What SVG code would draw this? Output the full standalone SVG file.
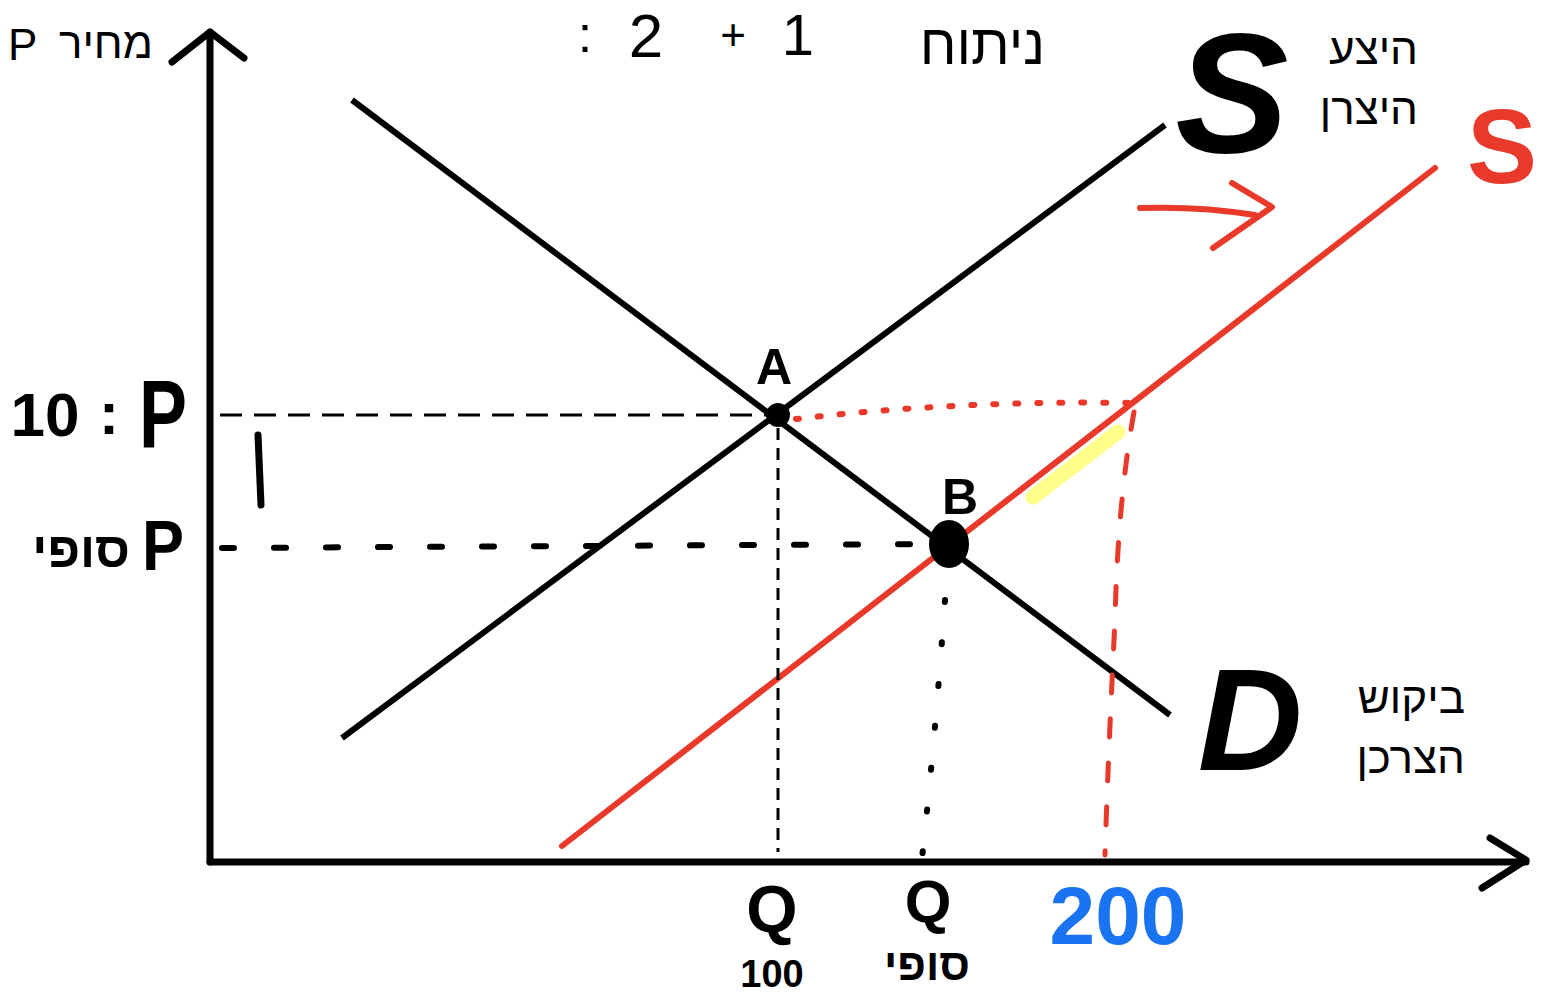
<svg xmlns="http://www.w3.org/2000/svg" width="1547" height="993" viewBox="0 0 1547 993">
<style>
.ax{stroke:#000;stroke-width:7;fill:none;stroke-linecap:round;stroke-linejoin:round}
.ln{stroke:#000;stroke-width:6;fill:none}
.rd{stroke:#e8392a;stroke-width:6;fill:none;stroke-linecap:round}
.hand{font-family:"Liberation Sans","DejaVu Sans",sans-serif;font-weight:bold;fill:#000}
.thin{font-family:"Liberation Sans","DejaVu Sans",sans-serif;fill:#000}
.typed{font-family:"Liberation Sans","DejaVu Sans","Noto Sans",sans-serif;font-size:44px;fill:#000}
</style>
<rect width="1547" height="993" fill="#fff"/>
<g id="axes">
<line class="ax" x1="210" y1="32" x2="210" y2="862"/>
<polyline class="ax" stroke-width="4" points="172,62 210,32 244,58"/>
<line class="ax" x1="210" y1="862" x2="1526" y2="862"/>
<polyline class="ax" stroke-width="4" points="1490,838 1526,860 1482,888"/>
</g>
<g id="connectors">
<line id="demand" class="ln" x1="352" y1="100" x2="1170" y2="715"/>
<line id="supply" class="ln" x1="342" y1="738" x2="1165" y2="125"/>
<line id="supply2" class="rd" x1="562" y1="846" x2="1435" y2="168" stroke-width="6"/>
<line stroke="#ffff8a" stroke-width="15" stroke-linecap="round" x1="1033" y1="497" x2="1118" y2="432"/>
<line stroke="#000" stroke-width="3" stroke-dasharray="22,12" x1="220" y1="415" x2="770" y2="415"/>
<line stroke="#000" stroke-width="3" stroke-dasharray="12,8" x1="778" y1="428" x2="778" y2="852"/>
<path d="M222 548 L935 544" stroke="#000" stroke-width="6" stroke-linecap="round" stroke-dasharray="12,40" fill="none"/>
<path d="M945 600 Q935 740 922 858" stroke="#000" stroke-width="6" stroke-linecap="round" stroke-dasharray="2,40" fill="none"/>
<path d="M796 419 Q960 400 1135 403" stroke="#e8392a" stroke-width="6" stroke-linecap="round" stroke-dasharray="3,19" fill="none"/>
<path d="M1134 412 Q1118 500 1115 620 Q1108 760 1105 855" stroke="#e8392a" stroke-width="5" stroke-linecap="round" stroke-dasharray="18,26" fill="none"/>
<path d="M1140 208 Q1200 206 1255 215" class="rd" stroke-width="8"/>
<polyline class="rd" stroke-width="8" stroke-linejoin="round" points="1232,183 1272,207 1213,248"/>
<line class="ax" x1="258" y1="435" x2="261" y2="505" stroke-width="9"/>
</g>
<g id="pointA">
<circle cx="778" cy="415" r="12" fill="#000"/>
<text class="hand" x="774" y="384" font-size="50" text-anchor="middle">A</text>
</g>
<g id="pointB">
<ellipse cx="949" cy="544" rx="20" ry="24" fill="#000"/>
<text class="hand" x="960" y="514" font-size="50" text-anchor="middle">B</text>
</g>
<g id="label-S">
<text class="hand" x="1232" y="152" font-size="170" text-anchor="middle" font-style="italic">S</text>
<text class="typed" x="1418" y="64" text-anchor="end">היצע</text>
<text class="typed" x="1418" y="124" text-anchor="end">היצרן</text>
</g>
<g id="label-S2">
<text x="1502" y="183" font-size="105" text-anchor="middle" font-family="Liberation Sans, DejaVu Sans, sans-serif" font-weight="bold" fill="#e8392a">S</text>
</g>
<g id="label-D">
<text class="hand" x="1250" y="770" font-size="145" text-anchor="middle" font-style="italic">D</text>
<text class="typed" x="1465" y="713" text-anchor="end">ביקוש</text>
<text class="typed" x="1465" y="773" text-anchor="end">הצרכן</text>
</g>
<g id="label-price">
<text class="typed" x="8" y="60" font-size="34">P</text>
<text class="typed" x="153" y="58" text-anchor="end" font-size="38">מחיר</text>
</g>
<g id="title">
<text class="thin" x="585" y="52" font-size="52" text-anchor="middle">:</text>
<text class="thin" x="646" y="57" font-size="62" text-anchor="middle">2</text>
<text class="thin" x="733" y="50" font-size="44" text-anchor="middle">+</text>
<text class="thin" x="798" y="55" font-size="58" text-anchor="middle">1</text>
<text class="thin" x="1045" y="64" font-size="56" text-anchor="end">ניתוח</text>
</g>
<g id="label-P10">
<text class="hand" x="45" y="436" font-size="62" text-anchor="middle">10</text>
<text class="hand" x="109" y="434" font-size="60" text-anchor="middle">:</text>
<text class="hand" x="163" y="447" font-size="96" text-anchor="middle" textLength="48" lengthAdjust="spacingAndGlyphs">P</text>
</g>
<g id="label-Pfinal">
<text class="hand" x="163" y="570" font-size="70" text-anchor="middle" textLength="42" lengthAdjust="spacingAndGlyphs">P</text>
<text class="hand" x="130" y="567" font-size="50" text-anchor="end">סופי</text>
</g>
<g id="label-Q">
<text class="hand" x="772" y="932" font-size="66" text-anchor="middle">Q</text>
<text class="hand" x="772" y="987" font-size="38" text-anchor="middle">100</text>
</g>
<g id="label-Qfinal">
<text class="hand" x="928" y="922" font-size="60" text-anchor="middle">Q</text>
<text class="hand" x="970" y="980" font-size="44" text-anchor="end">סופי</text>
</g>
<g id="label-200">
<text x="1118" y="944" font-size="82" text-anchor="middle" font-family="Liberation Sans, DejaVu Sans, sans-serif" font-weight="bold" fill="#1a73f0">200</text>
</g>
</svg>
